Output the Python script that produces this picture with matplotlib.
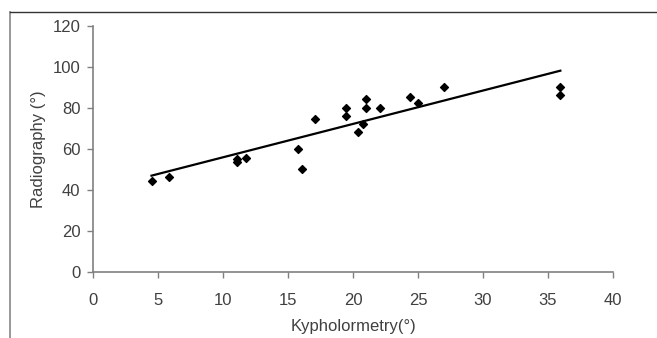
import matplotlib
matplotlib.use("Agg")
import matplotlib.pyplot as plt
from matplotlib.lines import Line2D

kypho = [4.5, 5.85, 11.1, 11.1, 11.8, 15.75, 16.05, 17.05, 19.45, 19.45, 20.4, 20.75,
         21.0, 21.0, 22.05, 24.4, 25.0, 27.0, 35.95, 35.95]
radio = [44.2, 46.2, 55.0, 53.8, 55.6, 60.2, 50.1, 74.5, 80.1, 76.2, 68.3, 72.2,
         84.2, 80.0, 80.0, 85.5, 82.3, 90.2, 90.2, 86.2]
trend_x = [4.5, 35.95]
trend_y = [47.0, 98.2]
xticks = [0, 5, 10, 15, 20, 25, 30, 35, 40]
yticks = [0, 20, 40, 60, 80, 100, 120]

plt.rcParams['font.family'] = ['Liberation Sans Narrow', 'Liberation Sans', 'DejaVu Sans']

fig = plt.figure(figsize=(6.57, 3.38), dpi=100)
ax = fig.add_axes([93/657, 66/338, 520/657, 246/338])

ax.plot(trend_x, trend_y, color='black', lw=1.6, zorder=2)
ax.scatter(kypho, radio, marker='D', s=16, color='black', zorder=3)

ax.set_xlim(0, 40)
ax.set_ylim(0, 120)
ax.set_xticks(xticks)
ax.set_yticks(yticks)
for s in ['top', 'right']:
    ax.spines[s].set_visible(False)
for s in ['left', 'bottom']:
    ax.spines[s].set_color('#808080')
    ax.spines[s].set_linewidth(1.2)
ax.tick_params(axis='both', direction='out', length=4, color='#808080', width=1,
               labelsize=12, labelcolor='#404040')
ax.tick_params(axis='x', pad=11)
ax.tick_params(axis='y', pad=5)
ax.set_xlabel('Kypholormetry(°)', fontsize=12, color='#404040', labelpad=8)
ax.set_ylabel('Radiography (°)', fontsize=12, color='#404040', labelpad=5)

# outer frame lines
fig.add_artist(Line2D([10/657, 10/657], [0, 1 - 12/338], transform=fig.transFigure,
                      color='#909090', lw=1.3))
fig.add_artist(Line2D([10/657, 1], [1 - 12/338, 1 - 12/338], transform=fig.transFigure,
                      color='#333333', lw=1.0))

fig.savefig('out.png', dpi=100)
